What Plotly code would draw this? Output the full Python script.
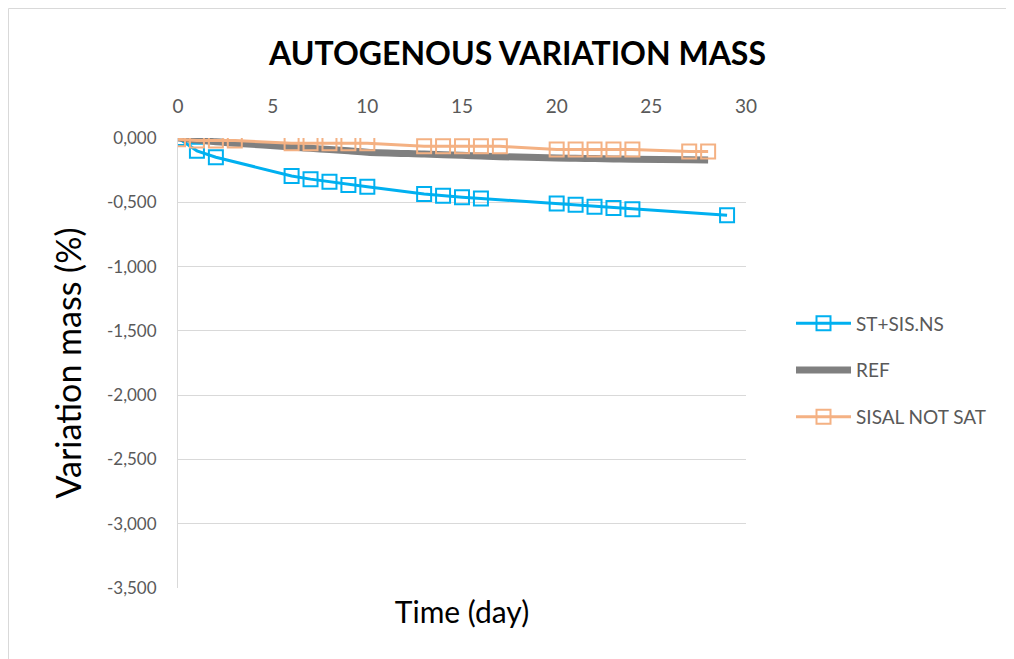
import plotly.graph_objects as go

# Data
days_st = [0, 1, 2, 6, 7, 8, 9, 10, 13, 14, 15, 16, 20, 21, 22, 23, 24, 29]
st_sis_ns = [0.000, -0.100, -0.150, -0.295, -0.320, -0.340, -0.365, -0.380, -0.435,
             -0.450, -0.460, -0.470, -0.510, -0.520, -0.535, -0.545, -0.555, -0.600]

days_ref = [0, 1, 2, 3, 6, 7, 8, 9, 10, 13, 14, 15, 16, 17, 20, 21, 22, 23, 24, 27, 28]
ref = [0.000, -0.015, -0.030, -0.040, -0.070, -0.080, -0.090, -0.100, -0.110, -0.125,
       -0.130, -0.135, -0.140, -0.145, -0.155, -0.158, -0.160, -0.163, -0.165, -0.170, -0.172]

days_sisal = [0, 1, 2, 3, 6, 7, 8, 9, 10, 13, 14, 15, 16, 17, 20, 21, 22, 23, 24, 27, 28]
sisal_not_sat = [-0.010, -0.020, -0.020, -0.020, -0.040, -0.040, -0.040, -0.040, -0.040,
                 -0.065, -0.065, -0.065, -0.065, -0.065, -0.090, -0.090, -0.090, -0.090,
                 -0.090, -0.105, -0.105]

y_tickvals = [0, -0.5, -1.0, -1.5, -2.0, -2.5, -3.0, -3.5]
y_ticktext = ["0,000", "-0,500", "-1,000", "-1,500", "-2,000", "-2,500", "-3,000", "-3,500"]
x_tickvals = [0, 5, 10, 15, 20, 25, 30]
x_ticktext = ["0", "5", "10", "15", "20", "25", "30"]

FONT = "Lato"
W, H = 1006, 651
L, R, T, B = 170, 268, 130, 71
PW, PH = W - L - R, H - T - B

fig = go.Figure()
fig.add_trace(go.Scatter(
    x=days_st, y=st_sis_ns, name="ST+SIS.NS", mode="lines+markers",
    line=dict(color="#00B0F0", width=3),
    marker=dict(symbol="square-open", size=14, color="#00B0F0", line=dict(width=2)),
    legendgroup="a"))
fig.add_trace(go.Scatter(
    x=days_ref, y=ref, name="REF", mode="lines",
    line=dict(color="#808080", width=7, shape="spline"),
    legendgroup="b"))
fig.add_trace(go.Scatter(
    x=days_sisal, y=sisal_not_sat, name="SISAL NOT SAT", mode="lines+markers",
    line=dict(color="#F4B183", width=3),
    marker=dict(symbol="square-open", size=14, color="#F4B183", line=dict(width=2)),
    legendgroup="c"))
fig.add_trace(go.Scatter(x=[None], y=[None], xaxis="x2", showlegend=False))

fig.update_layout(
    width=W, height=H,
    margin=dict(l=L, r=R, t=T, b=B),
    paper_bgcolor="white", plot_bgcolor="white",
    font=dict(family=FONT, color="#595959"),
    title=dict(text="<b>AUTOGENOUS VARIATION MASS</b>", x=0.5065, xanchor="center",
               xref="container", y=0.93, yanchor="middle", yref="container",
               font=dict(family=FONT, size=32, color="black")),
    xaxis=dict(range=[0, 30], tickvals=x_tickvals, ticktext=x_ticktext, side="top",
               showgrid=False, showline=False, zeroline=False, ticks="",
               ticklabelstandoff=20,
               tickfont=dict(size=19, color="#595959")),
    xaxis2=dict(overlaying="x", side="bottom", range=[0, 30], showticklabels=False,
                showgrid=False, zeroline=False,
                title=dict(text="Time (day)", font=dict(size=30, color="black"), standoff=13)),
    yaxis=dict(range=[-3.5, 0], tickvals=y_tickvals, ticktext=y_ticktext,
               showgrid=True, gridcolor="#D9D9D9", gridwidth=1,
               showline=True, linecolor="#D9D9D9", linewidth=1,
               zeroline=False, ticks="", ticklabelstandoff=17,
               tickfont=dict(size=17, color="#595959"),
               title=dict(text="Variation mass (%)", font=dict(size=34, color="black"), standoff=15)),
    legend=dict(x=(783 - L) / PW, y=0.63, xanchor="left", yanchor="top",
                font=dict(size=19, color="#595959"), tracegroupgap=19,
                itemwidth=55,
                traceorder="grouped", bgcolor="rgba(0,0,0,0)"),
    showlegend=True,
    shapes=[dict(type="rect", xref="paper", yref="paper",
                 x0=-(L - 0.5) / PW, y0=-0.3, x1=1.6, y1=1 + (T - 0.5) / PH,
                 line=dict(color="#D9D9D9", width=1), fillcolor="rgba(0,0,0,0)", layer="below")],
)

fig.write_html("out.html")
